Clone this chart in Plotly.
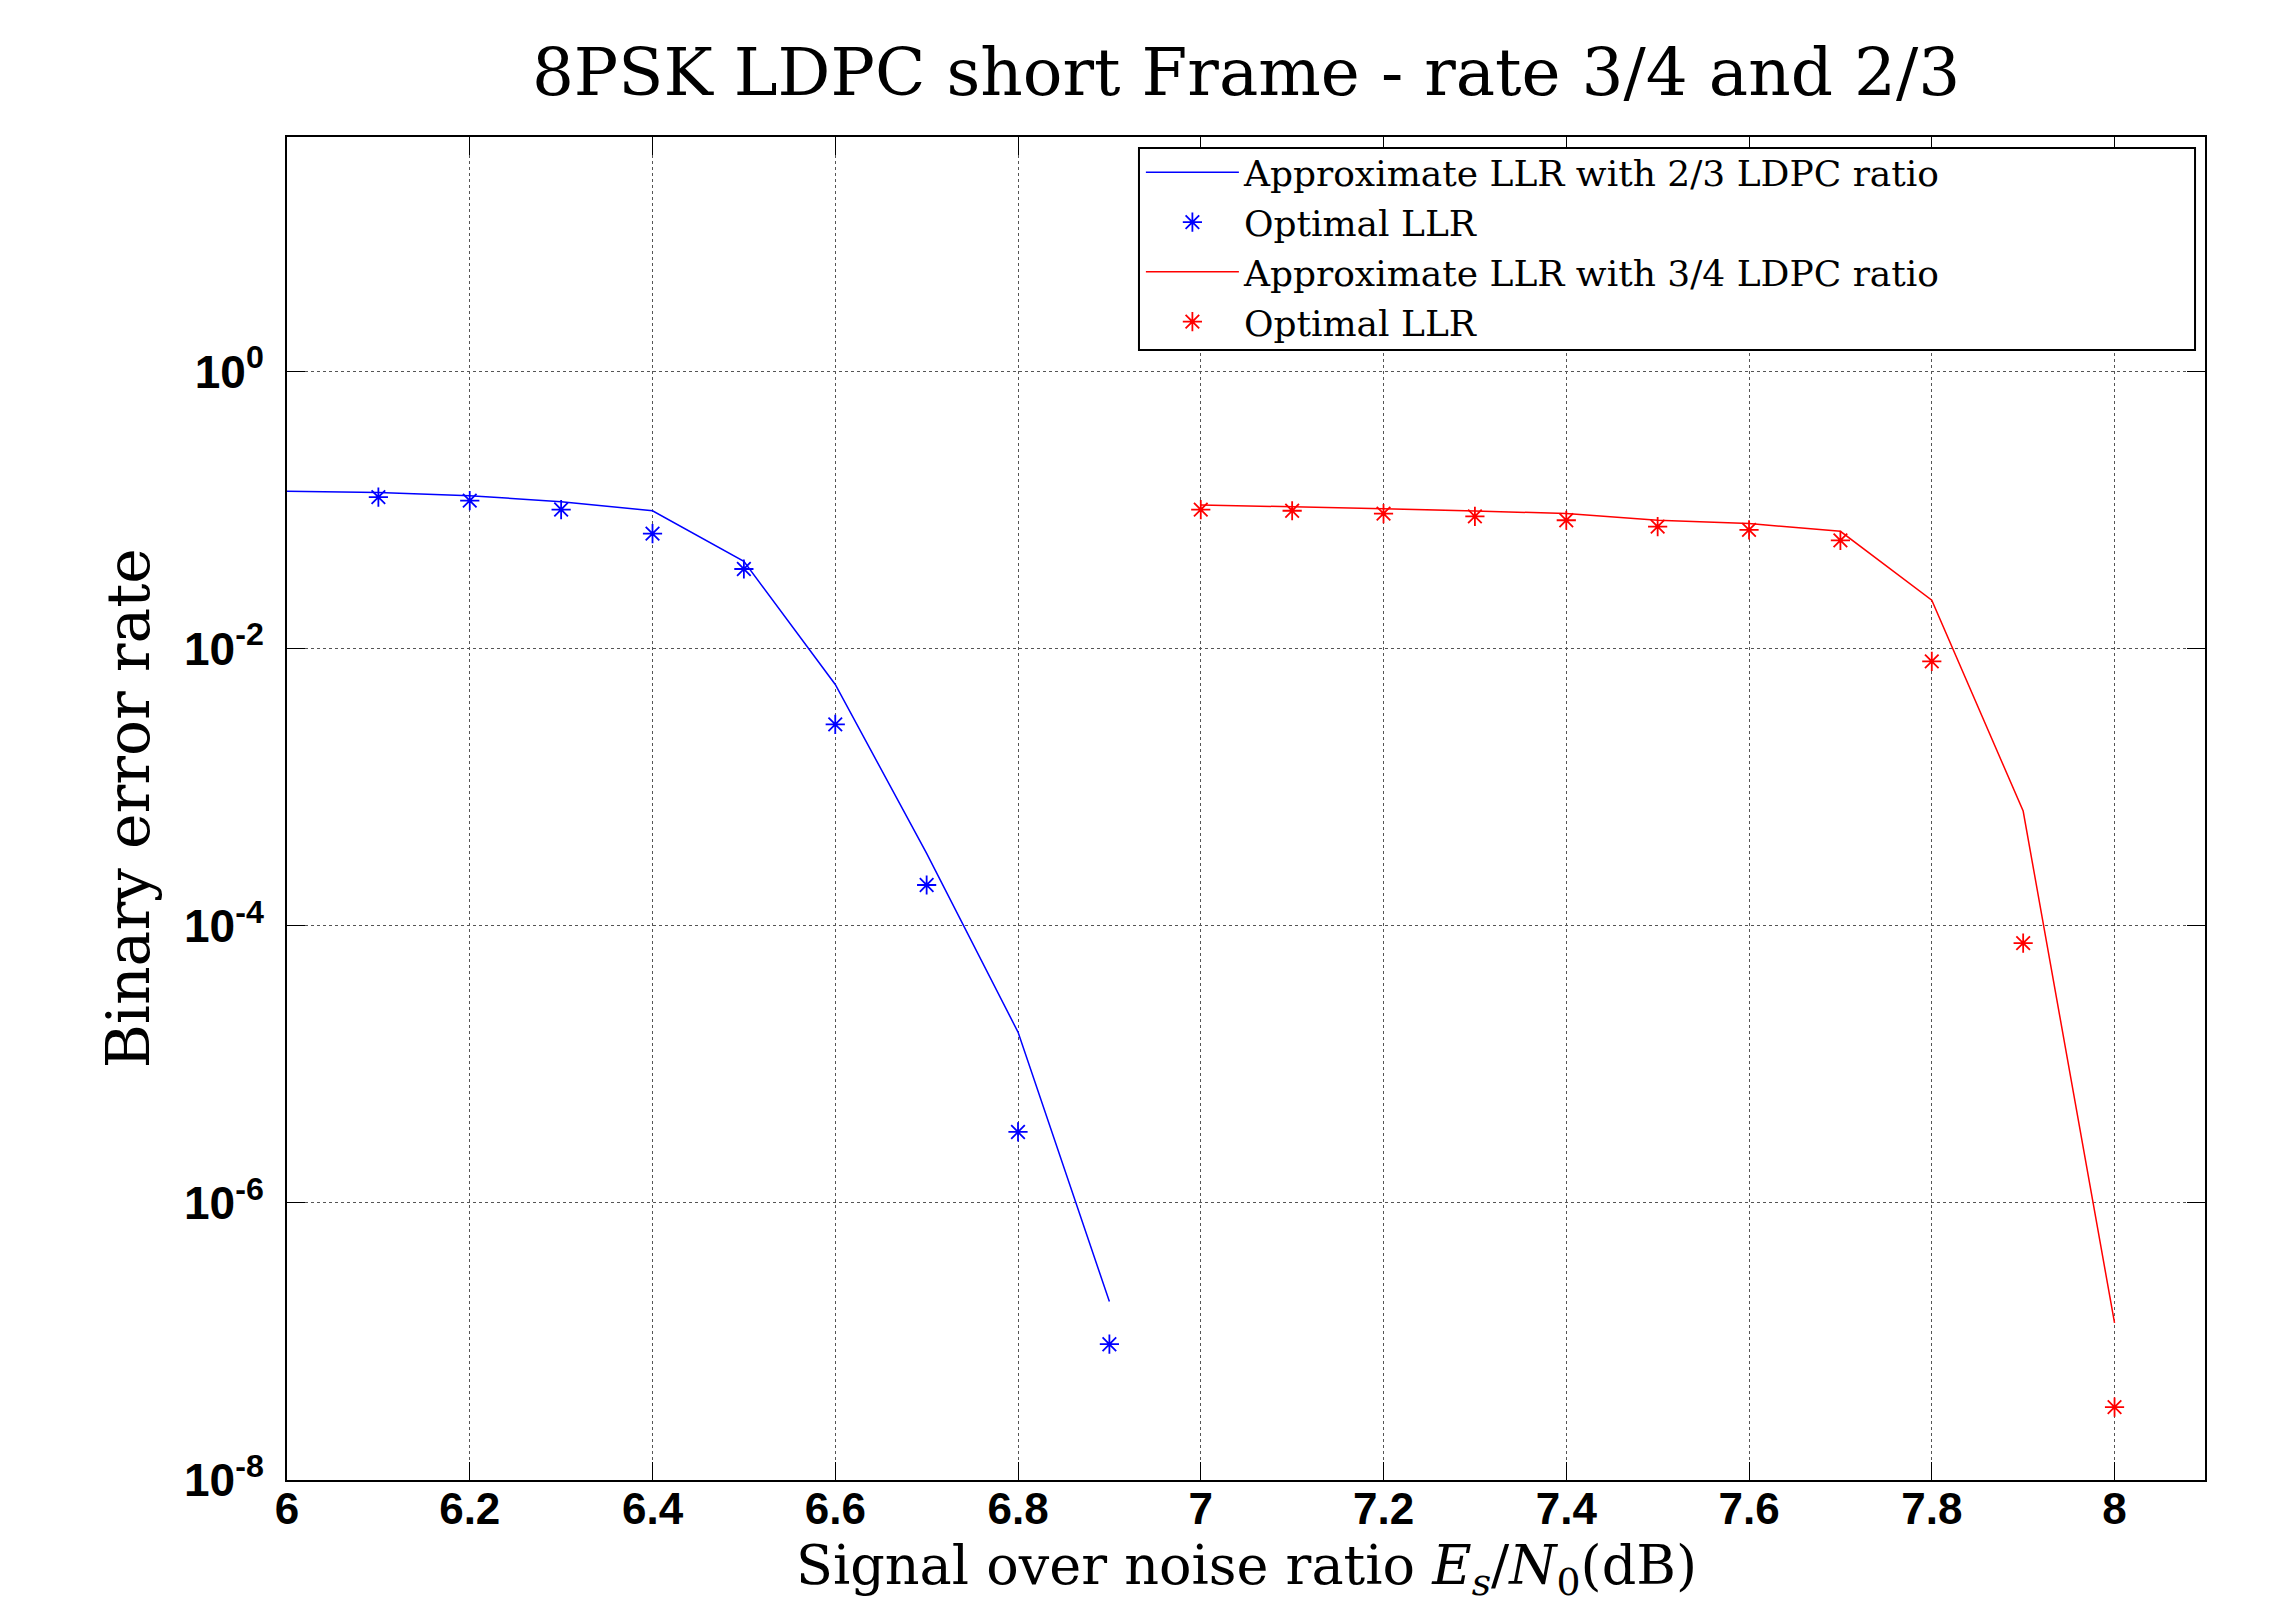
import plotly.graph_objects as go

# Es/N0 (dB) and bit error rates
snr_23 = [6.0, 6.1, 6.2, 6.3, 6.4, 6.5, 6.6, 6.7, 6.8, 6.9]
ber_approx_23 = [0.137, 0.134, 0.127, 0.115, 0.099, 0.0427, 0.00552, 3.33e-4, 1.71e-5, 1.94e-7]

snr_23_opt = [6.1, 6.2, 6.3, 6.4, 6.5, 6.6, 6.7, 6.8, 6.9]
ber_opt_23 = [0.124, 0.117, 0.101, 0.0677, 0.0376, 0.00284, 1.97e-4, 3.25e-6, 9.55e-8]

snr_34 = [7.0, 7.1, 7.2, 7.3, 7.4, 7.5, 7.6, 7.7, 7.8, 7.9, 8.0]
ber_approx_34 = [0.109, 0.106, 0.1025, 0.0987, 0.0944, 0.0845, 0.080, 0.0703, 0.0224, 6.73e-4, 1.36e-7]
ber_opt_34 = [0.1008, 0.099, 0.0944, 0.0902, 0.0845, 0.076, 0.072, 0.0605, 0.0081, 7.5e-5, 3.36e-8]

y_tickvals = [1e-8, 1e-6, 1e-4, 1e-2, 1e0]
y_ticktext = ["10<sup>-8</sup>", "10<sup>-6</sup>", "10<sup>-4</sup>", "10<sup>-2</sup>", "10<sup>0</sup>"]
x_tickvals = [6.0, 6.2, 6.4, 6.6, 6.8, 7.0, 7.2, 7.4, 7.6, 7.8, 8.0]
x_ticktext = ["6", "6.2", "6.4", "6.6", "6.8", "7", "7.2", "7.4", "7.6", "7.8", "8"]

serif = "DejaVu Serif"
sans = "Liberation Sans"

fig = go.Figure()
fig.add_trace(go.Scatter(x=snr_23, y=ber_approx_23, mode="lines",
                         line=dict(color="blue", width=1.5),
                         name="Approximate LLR with 2/3 LDPC ratio"))
fig.add_trace(go.Scatter(x=snr_23_opt, y=ber_opt_23, mode="markers",
                         marker=dict(symbol="asterisk-open", size=16,
                                     color="blue", line=dict(color="blue", width=1.8)),
                         name="Optimal LLR"))
fig.add_trace(go.Scatter(x=snr_34, y=ber_approx_34, mode="lines",
                         line=dict(color="red", width=1.5),
                         name="Approximate LLR with 3/4 LDPC ratio"))
fig.add_trace(go.Scatter(x=snr_34, y=ber_opt_34, mode="markers",
                         marker=dict(symbol="asterisk-open", size=16,
                                     color="red", line=dict(color="red", width=1.8)),
                         name="Optimal LLR"))

# page has an 8px body margin, so margins are shifted by that
fig.update_layout(
    width=2270, height=1604,
    margin=dict(l=279, r=73, t=129, b=132),
    paper_bgcolor="white", plot_bgcolor="white",
    title=dict(text="8PSK LDPC short Frame - rate 3/4 and 2/3",
               font=dict(family=serif, size=66, color="black"),
               x=0.5, xref="paper", xanchor="center",
               y=1 - 64 / 1604, yref="container", yanchor="middle"),
    # legend drawn without its own frame; the frame is a shape so it can be wider
    legend=dict(x=0.4452, y=0.996, xanchor="left", yanchor="top",
                bgcolor="rgba(0,0,0,0)", borderwidth=0,
                font=dict(family=serif, size=36, color="black"),
                tracegroupgap=0, itemwidth=93),
    shapes=[dict(type="rect", xref="paper", yref="paper",
                 x0=0.4442, x1=0.9948, y0=0.8414, y1=0.9918,
                 line=dict(color="black", width=2), fillcolor="white", layer="above")],
    showlegend=True,
    annotations=[
        dict(text="Signal over noise ratio <i>E<sub>s</sub></i>/<i>N</i><sub>0</sub>(dB)",
             xref="paper", yref="paper", x=0.5, y=-0.066,
             xanchor="center", yanchor="middle", showarrow=False,
             font=dict(family=serif, size=54, color="black")),
        dict(text="Binary error rate", textangle=-90,
             xref="paper", yref="paper", x=-0.083, y=0.5,
             xanchor="center", yanchor="middle", showarrow=False,
             font=dict(family=serif, size=60, color="black")),
    ],
)

fig.update_xaxes(range=[6, 8.099], tickvals=x_tickvals, ticktext=x_ticktext,
                 ticks="inside", ticklen=18, tickwidth=1, tickcolor="black",
                 showline=True, linecolor="black", linewidth=2, mirror="ticks",
                 showgrid=True, gridcolor="#555", griddash="dot", gridwidth=1,
                 zeroline=False, automargin=False, ticklabelstandoff=-11,
                 tickfont=dict(family=sans, size=44, color="black", weight="bold"))

fig.update_yaxes(type="log", range=[-8, 1.693], tickvals=y_tickvals, ticktext=y_ticktext,
                 ticks="inside", ticklen=18, tickwidth=1, tickcolor="black",
                 showline=True, linecolor="black", linewidth=2, mirror="ticks",
                 showgrid=True, gridcolor="#555", griddash="dot", gridwidth=1,
                 zeroline=False, automargin=False, ticklabelstandoff=12,
                 tickfont=dict(family=sans, size=46, color="black", weight="bold"))

fig.write_html("out.html")
